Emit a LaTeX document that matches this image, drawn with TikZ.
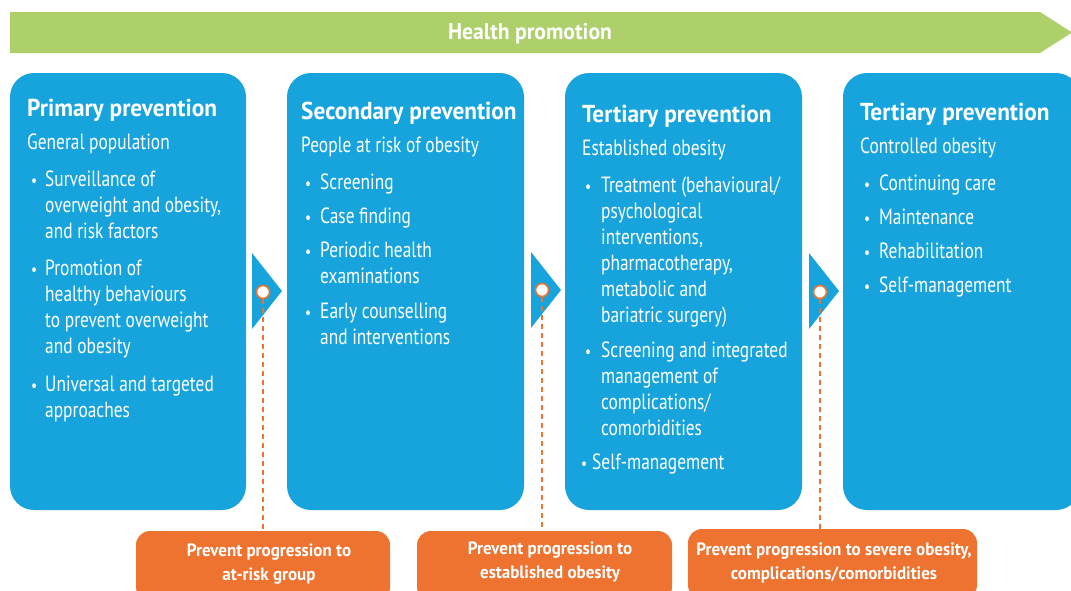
\documentclass[tikz,border=0pt]{standalone}
\usepackage{fontspec}
\setmainfont{PT Sans}[FakeStretch=0.79, BoldFeatures={FakeStretch=0.95}]
\definecolor{bluebg}{HTML}{17A4DD}
\definecolor{greenbg}{HTML}{ADD06B}
\definecolor{orangebg}{HTML}{EE7330}
\tikzset{
  bluebox/.style={rectangle, rounded corners=24pt, fill=bluebg, minimum height=437pt, minimum width=236pt, inner sep=0},
  orangebox/.style={rectangle, rounded corners=14pt, fill=orangebg, minimum height=70pt, inner sep=0},
  txt/.style={anchor=base west, inner sep=0, text=white, font=\fontsize{22}{26}\selectfont},
  head/.style={anchor=base west, inner sep=0, text=white, font=\fontsize{24.5}{28}\selectfont\bfseries},
  bul/.style={anchor=base west, inner sep=0, text=white, font=\fontsize{17}{23}\selectfont},
  otxt/.style={inner sep=0, text=white, align=center, font=\fontsize{17.9}{24}\selectfont\bfseries},
  tri/.style={fill=bluebg},
  ring/.style={circle, draw=orangebg, line width=1.6pt, fill=white, minimum size=13pt, inner sep=0},
  dashline/.style={draw=orangebg, line width=1.6pt, dash pattern=on 5pt off 4pt}
}
\newcommand\tl[3]{\node[txt] (#1) at (#2) {#3};}
\newcommand\bl[2]{\node[bul] (#1) at (#2) {•};}
\begin{document}
\begin{tikzpicture}[x=1pt,y=-1pt]
\useasboundingbox (0,0) rectangle (1071,590);
\clip (0,0) rectangle (1071,590);
% health promotion arrow
\fill[greenbg] (10,12) -- (1040,12) -- (1072,32.5) -- (1040,53) -- (10,53) -- cycle;
\node[inner sep=0, text=white, font=\fontsize{22.8}{26}\selectfont\bfseries] (hp) at (530,34) {Health promotion};
% blue boxes
\node[bluebox] (b1) at (128,291.5) {};
\node[bluebox, minimum width=237pt] (b2) at (405.5,291.5) {};
\node[bluebox, minimum width=237pt] (b3) at (683.5,291.5) {};
\node[bluebox, minimum width=237pt] (b4) at (961.5,291.5) {};
% triangles
\fill[tri] (252,253) -- (282,291) -- (252,329) -- cycle;
\fill[tri] (531,252) -- (561,290) -- (531,328) -- cycle;
\fill[tri] (809,253) -- (839,291) -- (809,329) -- cycle;
% orange boxes
\node[orangebox, minimum width=254pt] (o1) at (263,566) {};
\node[orangebox, minimum width=255pt] (o2) at (544.5,566) {};
\node[orangebox, minimum width=289pt] (o3) at (832.5,564) {};
% rings and dashes
\node[ring] (c1) at (263,292) {};
\node[ring] (c2) at (542,290) {};
\node[ring] (c3) at (820,292) {};
\draw[dashline] (c1.south) -- (c1.south |- o1.north);
\draw[dashline] (c2.south) -- (c2.south |- o2.north);
\draw[dashline] (c3.south) -- (c3.south |- o3.north);
\node[otxt] (ot1) at (269,564) {Prevent progression to\\at-risk group};
\node[otxt] (ot2) at (550,562) {Prevent progression to\\established obesity};
\node[otxt] (ot3) at (834,563) {Prevent progression to severe obesity,\\complications/comorbidities};
% box 1
\node[head] (h1) at (27,116) {Primary prevention};
\tl{s1}{27,149}{General population}
\bl{p1a}{31,186}\tl{l1a}{45,186}{Surveillance of}
\tl{l1b}{45,212}{overweight and obesity,}
\tl{l1c}{45,238}{and risk factors}
\bl{p1b}{31,275}\tl{l1d}{45,275}{Promotion of}
\tl{l1e}{45,301}{healthy behaviours}
\tl{l1f}{45,327}{to prevent overweight}
\tl{l1g}{45,353}{and obesity}
\bl{p1c}{31,391}\tl{l1h}{45,391}{Universal and targeted}
\tl{l1i}{45,417}{approaches}
% box 2
\node[head] (h2) at (301,119) {Secondary prevention};
\tl{s2}{301,152}{People at risk of obesity}
\bl{p2a}{305,189}\tl{l2a}{320,189}{Screening}
\bl{p2b}{305,223}\tl{l2b}{320,223}{Case finding}
\bl{p2c}{305,257}\tl{l2c}{320,257}{Periodic health}
\tl{l2d}{320,283}{examinations}
\bl{p2d}{305,318}\tl{l2e}{320,318}{Early counselling}
\tl{l2f}{320,344}{and interventions}
% box 3
\node[head] (h3) at (582,122) {Tertiary prevention};
\tl{s3}{582,155}{Established obesity}
\bl{p3a}{585,192}\tl{l3a}{601,192}{Treatment (behavioural/}
\tl{l3b}{601,218}{psychological}
\tl{l3c}{601,244}{interventions,}
\tl{l3d}{601,270}{pharmacotherapy,}
\tl{l3e}{601,296}{metabolic and}
\tl{l3f}{601,322}{bariatric surgery)}
\bl{p3b}{585,357}\tl{l3g}{601,357}{Screening and integrated}
\tl{l3h}{601,383}{management of}
\tl{l3i}{601,409}{complications/}
\tl{l3j}{601,435}{comorbidities}
\bl{p3c}{581,469}\tl{l3k}{592,469}{Self-management}
% box 4
\node[head] (h4) at (860,120) {Tertiary prevention};
\tl{s4}{860,153}{Controlled obesity}
\bl{p4a}{864,190}\tl{l4a}{879,190}{Continuing care}
\bl{p4b}{864,224}\tl{l4b}{879,224}{Maintenance}
\bl{p4c}{864,258}\tl{l4c}{879,258}{Rehabilitation}
\bl{p4d}{864,292}\tl{l4d}{879,292}{Self-management}
\end{tikzpicture}
\end{document}
